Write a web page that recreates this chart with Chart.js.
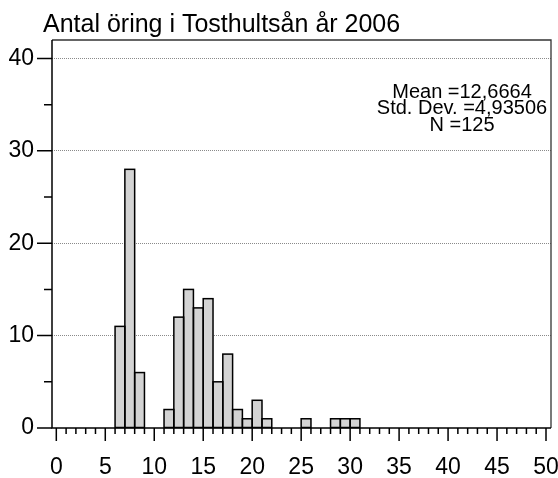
<!DOCTYPE html>
<html>
<head>
<meta charset="utf-8">
<script src="https://cdn.jsdelivr.net/npm/chart.js@4/dist/chart.umd.min.js"></script>
<style>
  html, body { margin: 0; padding: 0; background: #fff; }
  #wrap { width: 558px; height: 478px; }
</style>
</head>
<body>
<div id="wrap"><canvas id="c" width="558" height="478"></canvas></div>
<script>
const chartTitle = 'Antal öring i Tosthultsån år 2006';
const binStarts = [6, 7, 8, 11, 12, 13, 14, 15, 16, 17, 18, 19, 20, 21, 25, 28, 29, 30];
const counts    = [11, 28, 6, 2, 12, 15, 13, 14, 5, 8, 2, 1, 3, 1, 1, 1, 1, 1];
const binWidth = 1;
const xTickLabels = [0, 5, 10, 15, 20, 25, 30, 35, 40, 45, 50];
const yTickLabels = [0, 10, 20, 30, 40];
const statsLines = ['Mean =12,6664', 'Std. Dev. =4,93506', 'N =125'];

const FONT = '"Liberation Sans", Arial, Helvetica, sans-serif';

const points = binStarts.map((s, i) => ({ x: s + binWidth / 2, y: counts[i] }));

const decor = {
  id: 'decor',
  afterDatasetsDraw(chart) {
    const ctx = chart.ctx;
    const meta = chart.getDatasetMeta(0);
    ctx.save();
    ctx.strokeStyle = '#000';
    ctx.lineWidth = 1.5;
    meta.data.forEach(bar => {
      const p = bar.getProps(['x', 'y', 'base', 'width'], true);
      const x0 = p.x - p.width / 2;
      ctx.strokeRect(x0, p.y, p.width, p.base - p.y);
    });
    ctx.restore();
  },
  afterDraw(chart) {
    const ctx = chart.ctx;
    const a = chart.chartArea;
    const xs = chart.scales.x, ys = chart.scales.y;
    ctx.save();
    ctx.strokeStyle = '#333';
    ctx.lineWidth = 1.3;
    ctx.beginPath();
    ctx.moveTo(a.left, a.top); ctx.lineTo(a.right, a.top); ctx.lineTo(a.right, a.bottom);
    ctx.stroke();
    ctx.strokeStyle = '#000';
    ctx.lineWidth = 1.5;
    ctx.beginPath();
    ctx.moveTo(a.left, a.top); ctx.lineTo(a.left, a.bottom); ctx.lineTo(a.right, a.bottom);
    ctx.stroke();
    ctx.beginPath();
    const x0 = xTickLabels[0], x1 = xTickLabels[xTickLabels.length - 1];
    for (let v = x0; v <= x1; v++) {
      const px = xs.getPixelForValue(v);
      const len = xTickLabels.includes(v) ? 13 : 6;
      ctx.moveTo(px, a.bottom); ctx.lineTo(px, a.bottom + len);
    }
    for (let i = 0; i < yTickLabels.length; i++) {
      const py = ys.getPixelForValue(yTickLabels[i]);
      ctx.moveTo(a.left, py); ctx.lineTo(a.left - 15, py);
      if (i < yTickLabels.length - 1) {
        const pm = ys.getPixelForValue((yTickLabels[i] + yTickLabels[i + 1]) / 2);
        ctx.moveTo(a.left, pm); ctx.lineTo(a.left - 8, pm);
      }
    }
    ctx.stroke();
    ctx.fillStyle = '#000';
    ctx.font = '25px ' + FONT;
    ctx.textAlign = 'left';
    ctx.textBaseline = 'alphabetic';
    ctx.fillText(chartTitle, 43, 32);
    ctx.font = '20px ' + FONT;
    ctx.textAlign = 'center';
    ctx.textBaseline = 'middle';
    statsLines.forEach((t, i) => ctx.fillText(t, 462, 92 + i * 16.5));
    ctx.restore();
  }
};

new Chart(document.getElementById('c'), {
  type: 'bar',
  data: {
    datasets: [{
      data: points,
      backgroundColor: '#d3d3d3',
      borderWidth: 0,
      barPercentage: 1,
      categoryPercentage: 1
    }]
  },
  options: {
    responsive: false,
    animation: false,
    devicePixelRatio: 1,
    layout: { padding: { top: 40, right: 7, left: 0, bottom: 0 } },
    plugins: { legend: { display: false }, tooltip: { enabled: false }, title: { display: false } },
    scales: {
      x: {
        type: 'linear',
        min: -0.44,
        max: 50.51,
        offset: false,
        grid: { display: false, drawTicks: false, offset: false },
        border: { display: false },
        ticks: {
          stepSize: 5,
          includeBounds: false,
          autoSkip: false,
          maxRotation: 0,
          padding: 26,
          color: '#000',
          font: { size: 23, family: FONT },
          callback: v => xTickLabels.includes(v) ? String(v) : ''
        },
        afterFit: s => { s.height = 50; s.paddingLeft = 0; s.paddingRight = 0; }
      },
      y: {
        type: 'linear',
        min: 0,
        max: 42,
        grid: {
          drawTicks: false,
          lineWidth: 1,
          color: c => (c.tick && c.tick.value === 0) ? 'rgba(0,0,0,0)' : '#8a8a8a'
        },
        border: { display: false, dash: [1, 1] },
        ticks: {
          stepSize: 10,
          includeBounds: false,
          padding: 18,
          color: '#000',
          font: { size: 23, family: FONT },
          callback: v => yTickLabels.includes(v) ? String(v) : ''
        },
        afterFit: s => { s.width = 52; s.paddingTop = 0; s.paddingBottom = 0; }
      }
    }
  },
  plugins: [decor]
});
</script>
</body>
</html>
